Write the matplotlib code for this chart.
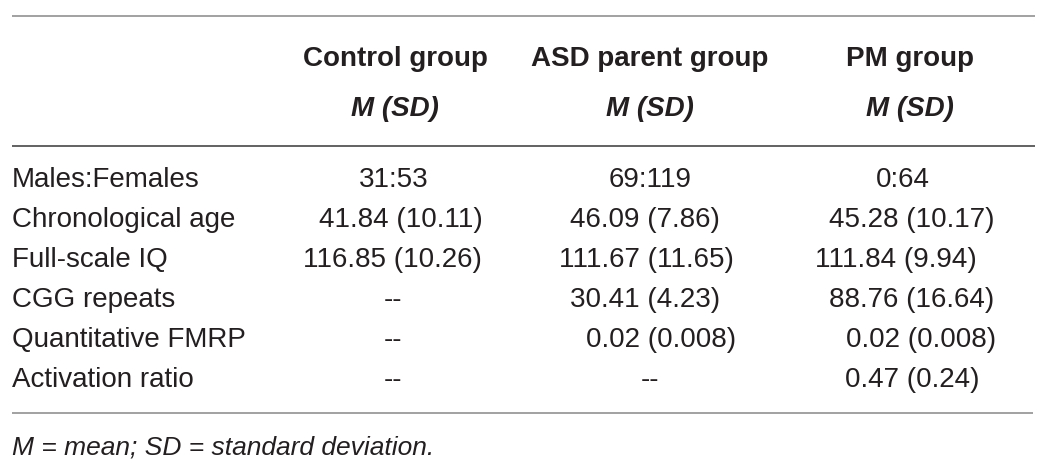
import matplotlib
matplotlib.use("Agg")
import matplotlib.pyplot as plt

# ---- data ----
groups = ["Control group", "ASD parent group", "PM group"]
subheader = "M (SD)"
row_labels = ["Males:Females", "Chronological age", "Full-scale IQ",
              "CGG repeats", "Quantitative FMRP", "Activation ratio"]
control_vals = ["31:53", "41.84 (10.11)", "116.85 (10.26)", "--", "--", "--"]
asd_vals = ["69:119", "46.09 (7.86)", "111.67 (11.65)", "30.41 (4.23)", "0.02 (0.008)", "--"]
pm_vals = ["0:64", "45.28 (10.17)", "111.84 (9.94)", "88.76 (16.64)", "0.02 (0.008)", "0.47 (0.24)"]
footnote = "M = mean; SD = standard deviation."

# ---- layout (pixel coordinates) ----
W, H = 1048, 472
col_x = [395, 650, 910]
cell_dx = [[-1, 6, -3, -2, -2, -2],
           [0, -5, -4, -5, 11, 0],
           [-7, 2, -14, 2, 11, 2]]
label_x = 12
row_base0, row_step = 187, 40
txt_color = "#231f20"
FONT = "Liberation Sans"

fig = plt.figure(figsize=(W / 100, H / 100), dpi=100)
ax = fig.add_axes([0, 0, 1, 1])
ax.set_xlim(0, W)
ax.set_ylim(H, 0)
ax.axis("off")

# rules
ax.plot([12, 1035], [16, 16], color="#9a9a9a", lw=1.3, solid_capstyle="butt")
ax.plot([12, 1035], [146, 146], color="#555555", lw=1.3, solid_capstyle="butt")
ax.plot([12, 1033], [413, 413], color="#9a9a9a", lw=1.3, solid_capstyle="butt")

# headers
for g, x in zip(groups, col_x):
    ax.text(x, 66, g, ha="center", va="baseline", fontsize=20,
            fontweight="bold", color=txt_color, family=FONT)
    ax.text(x, 116, subheader, ha="center", va="baseline", fontsize=20,
            fontweight="bold", style="italic", color=txt_color, family=FONT)

# rows
columns = [control_vals, asd_vals, pm_vals]
for i, lab in enumerate(row_labels):
    y = row_base0 + i * row_step
    ax.text(label_x, y, lab, ha="left", va="baseline", fontsize=20,
            color=txt_color, family=FONT)
    for j, vals in enumerate(columns):
        ax.text(col_x[j] + cell_dx[j][i], y, vals[i], ha="center", va="baseline",
                fontsize=20, color=txt_color, family=FONT)

ax.text(label_x, 454, footnote, ha="left", va="baseline", fontsize=19,
        style="italic", color=txt_color, family=FONT)

fig.savefig("out.png", dpi=100, facecolor="white")
